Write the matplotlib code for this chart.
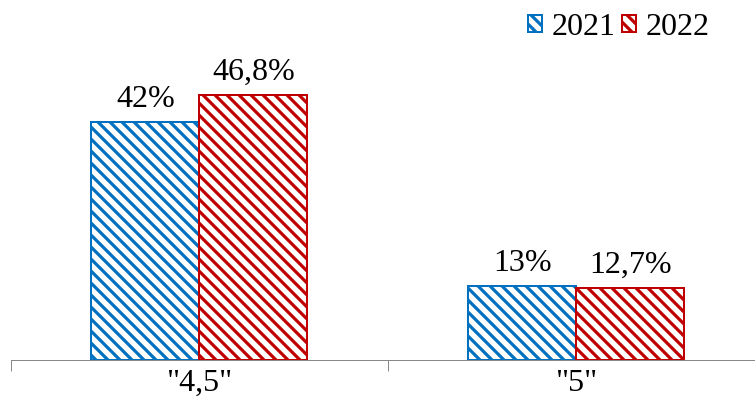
import numpy as np
import matplotlib.pyplot as plt
from matplotlib.patches import Patch

categories = ['"4,5"', '"5"']
series = ['2021', '2022']
values_2021 = [42, 13]
values_2022 = [46.8, 12.7]
labels_2021 = ['42%', '13%']
labels_2022 = ['46,8%', '12,7%']
colors = ['#0070C0', '#C00000']

plt.rcParams['font.family'] = ['Liberation Serif', 'DejaVu Serif']
plt.rcParams['hatch.linewidth'] = 3.2

dpi = 72
fig = plt.figure(figsize=(755 / dpi, 412 / dpi), dpi=dpi)
# axes: left at 11px, 1 category = 377px, bottom at 52px, top at 20px
ax = fig.add_axes([11 / 755, 52 / 412, 754 / 755, 340 / 412])

x = np.arange(len(categories))
w = 108 / 377
for vals, labs, col, off in [(values_2021, labels_2021, colors[0], -w / 2),
                             (values_2022, labels_2022, colors[1], w / 2)]:
    bars = ax.bar(x + off, vals, width=w, facecolor='white', edgecolor=col,
                  hatch='\\\\', linewidth=2)
    for b, lab in zip(bars, labs):
        ax.annotate(lab, (b.get_x() + b.get_width() / 2, b.get_height()),
                    xytext=(0, 8), textcoords='offset points',
                    ha='center', va='bottom', fontsize=32)

ax.set_xlim(-0.5, 1.5)
ax.set_ylim(0, 60)
ax.set_yticks([])
for s in ['top', 'right', 'left']:
    ax.spines[s].set_visible(False)
ax.spines['bottom'].set_color('#888888')
ax.spines['bottom'].set_linewidth(1)
ax.set_xticks(x)
ax.set_xticklabels(categories, fontsize=32)
ax.tick_params(axis='x', which='major', length=0, pad=9)
ax.set_xticks([-0.5, 0.5, 1.5], minor=True)
ax.tick_params(axis='x', which='minor', length=11, color='#888888', width=1)

handles = [Patch(facecolor='white', edgecolor=c, hatch='\\\\', linewidth=2) for c in colors]
fig.legend(handles, series, loc='upper right', bbox_to_anchor=(729 / 755, 1.015),
           frameon=False, fontsize=32, handlelength=0.45, handleheight=0.45,
           handletextpad=0.3, columnspacing=0.2, ncol=2, borderaxespad=0.2)

fig.savefig('out.png', dpi=dpi)
